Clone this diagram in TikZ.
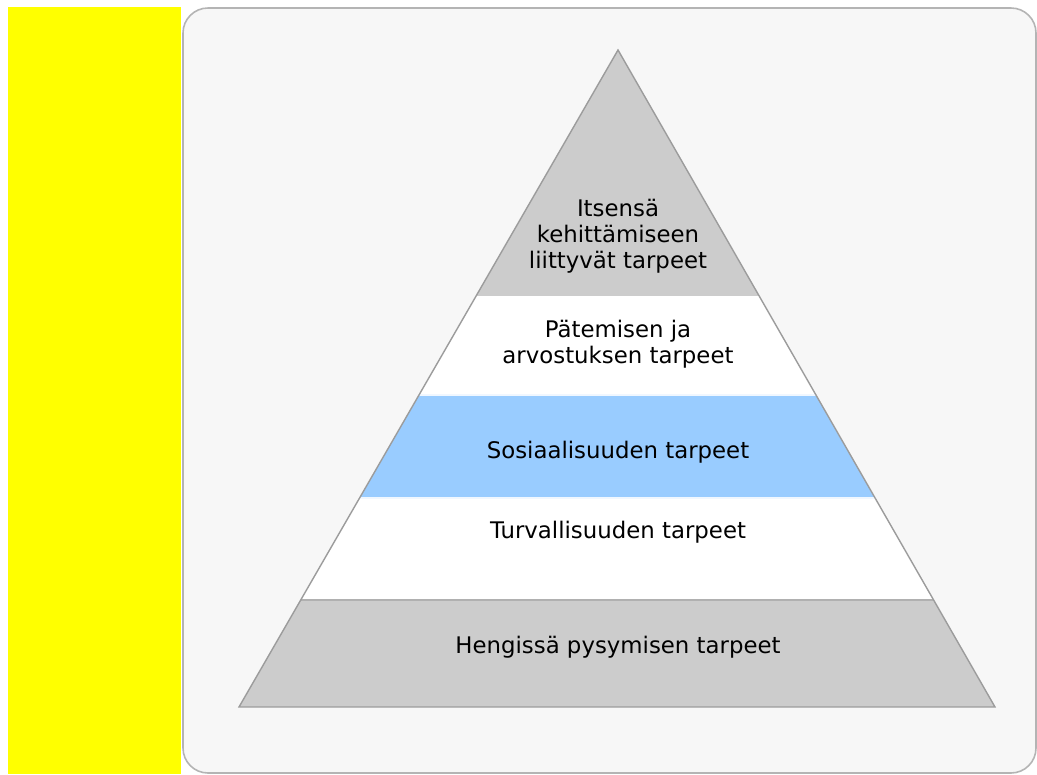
\documentclass[tikz,border=0pt]{standalone}
\usepackage{fontspec}
\setmainfont{DejaVu Sans}
\definecolor{sideyellow}{RGB}{255,255,0}
\definecolor{panelfill}{HTML}{F7F7F7}
\definecolor{panelline}{HTML}{B4B4B4}
\definecolor{levelgray}{HTML}{CCCCCC}
\definecolor{levelblue}{HTML}{99CCFF}
\definecolor{edgegray}{HTML}{9C9C9C}
\tikzset{level/.style={font=\fontsize{13}{14.8}\selectfont, align=center, inner sep=0pt}}

\begin{document}
\begin{tikzpicture}[x=0.02cm, y=-0.02cm]
			\useasboundingbox (0, 0) rectangle (1037, 774);
			\fill [white] (0, 0) rectangle (1037, 774);
			\fill [sideyellow] (8, 7) rectangle (181, 774);
			\draw [panelline, fill=panelfill, line width=0.9pt, rounded corners=0.5cm] (183, 8) rectangle (1036, 773);
			% pyramid levels
			\begin{scope}
				\clip (618, 50)--(995, 707)--(239, 707)--cycle;
				\fill [levelgray] (200, 0) rectangle (1037, 295);
				\fill [white] (200, 295) rectangle (1037, 395);
				\fill [levelblue] (200, 395) rectangle (1037, 498);
				\fill [white] (200, 498) rectangle (1037, 600);
				\fill [levelgray] (200, 600) rectangle (1037, 707);
				\draw [gray!40, line width=0.6pt] (200, 295)--(1037, 295);
				\draw [white!85!levelblue, line width=0.6pt] (200, 395)--(1037, 395);
				\draw [white!85!levelblue, line width=0.6pt] (200, 498)--(1037, 498);
				\draw [edgegray!80, line width=0.8pt] (200, 600)--(1037, 600);
			\end{scope}
			\draw [edgegray, line width=0.8pt, line join=miter] (618, 50)--(995, 707)--(239, 707)--cycle;
			\node [level] (itse) at (618, 236) {Itsensä\\kehittämiseen\\liittyvät tarpeet};
			\node [level] (pate) at (618, 344) {Pätemisen ja\\arvostuksen tarpeet};
			\node [level] (sosi) at (618, 452) {Sosiaalisuuden tarpeet};
			\node [level] (turva) at (618, 532) {Turvallisuuden tarpeet};
			\node [level] (hengi) at (618, 647) {Hengissä pysymisen tarpeet};
		\end{tikzpicture}
\end{document}
